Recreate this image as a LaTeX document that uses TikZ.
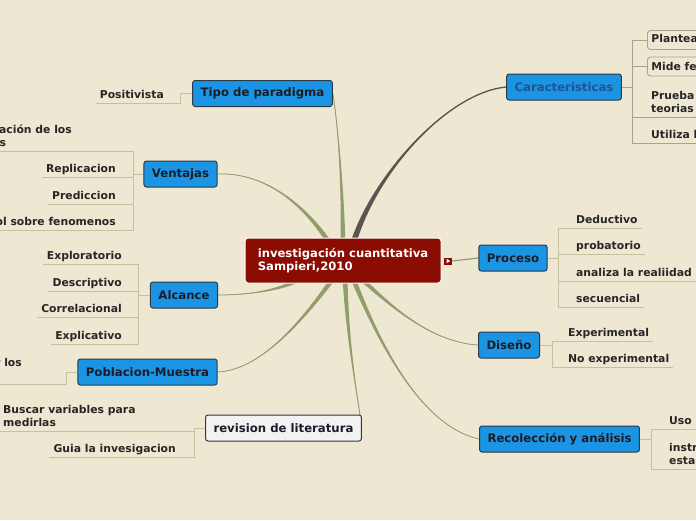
\documentclass[tikz,border=0pt]{standalone}
\usepackage{fontspec}
\setmainfont{DejaVu Sans}
\usetikzlibrary{calc}
\definecolor{bgc}{HTML}{EEE7D2}
\definecolor{topicblue}{HTML}{1B95E3}
\definecolor{boxline}{HTML}{2B3A48}
\definecolor{topictext}{HTML}{1C1C28}
\definecolor{cartext}{HTML}{24528F}
\definecolor{centerred}{HTML}{8A0C02}
\definecolor{olivec}{HTML}{8F9E6A}
\definecolor{darkc}{HTML}{58574F}
\definecolor{leafline}{HTML}{C2C39E}
\definecolor{grayline}{HTML}{A8A290}
\definecolor{leaftext}{HTML}{262626}
\definecolor{revfill}{HTML}{F2F2F2}
\pgfdeclarelayer{bgl}
\pgfdeclarelayer{conn}
\pgfsetlayers{bgl,conn,main}
\newcommand\taper[7]{%
  \fill[#1] ($#2+#6$) .. controls ($#3+0.5*#6$) and #4 .. #5 .. controls #4 and ($#3-0.5*#6$) .. ($#2-#6$) -- cycle;
  \draw[#1, line width=#7] #2 .. controls #3 and #4 .. #5;}
\begin{document}
\begin{tikzpicture}[x=1pt,y=-1pt,
  topic/.style={draw=boxline, fill=topicblue, rounded corners=2.5pt, line width=1pt, text=topictext,
    font=\bfseries\fontsize{11.7}{13.5}\selectfont, minimum height=26pt, inner xsep=8pt, inner ysep=0pt},
  revbox/.style={topic, fill=revfill},
  centerbox/.style={draw=white, fill=centerred, rounded corners=3pt, line width=1pt, text=white, align=left,
    font=\bfseries\fontsize{11.6}{13.3}\selectfont, minimum width=196pt, minimum height=45pt},
  leaf/.style={inner xsep=4pt, inner ysep=4.5pt, text depth=0pt, text=leaftext, align=left,
    font=\bfseries\fontsize{10.8}{13}\selectfont},
  leafbox/.style={draw=grayline, rounded corners=3pt, line width=0.9pt, inner xsep=4pt, inner ysep=0pt,
    minimum height=19pt, text=leaftext, font=\bfseries\fontsize{10.8}{13}\selectfont},
  sub/.style={draw=leafline, line width=1pt},
  subg/.style={draw=grayline, line width=1pt}]
\begin{pgfonlayer}{bgl}
\fill[bgc] (0,0) rectangle (696,520);
\end{pgfonlayer}
\useasboundingbox (0,0) rectangle (696,520);

% central node
\node[centerbox] (c) at (343,260.5) {investigación cuantitativa\\Sampieri,2010};
\node[fill=centerred, minimum width=8pt, minimum height=7pt, inner sep=0pt] (mk) at (448,261) {};
\fill[white] ($(mk.center)+(-1.5,-2.2)$) -- ++(3.8,2.2) -- ++(-3.8,2.2) -- cycle;

% main topics
\node[topic] (tipo) at (262.5,93.5) {Tipo de paradigma};
\node[topic] (vent) at (180.5,174) {Ventajas};
\node[topic] (alc) at (184,295) {Alcance};
\node[topic] (pob) at (147.5,372) {Poblacion-Muestra};
\node[revbox] (rev) at (283.5,428) {revision de literatura};
\node[topic, text=cartext] (car) at (564,87) {Caracteristicas};
\node[topic] (proc) at (513,258) {Proceso};
\node[topic] (dis) at (509,345) {Diseño};
\node[topic] (rec) at (559.5,439) {Recolección y análisis};

% leaves left
\node[leaf, anchor=south east] (pos) at (168,103) {Positivista};
\node[leaf, anchor=south east] (gen) at (76,151) {Generalización de los\\resultados};
\node[leaf, anchor=south east] (repl) at (120,177) {Replicacion};
\node[leaf, anchor=south east] (pred) at (120,204) {Prediccion};
\node[leaf, anchor=south east] (ctrl) at (120,230) {Control sobre fenomenos};
\node[leaf, anchor=south east] (expl) at (126,264) {Exploratorio};
\node[leaf, anchor=south east] (desc) at (126,291) {Descriptivo};
\node[leaf, anchor=south east] (corr) at (126,317) {Correlacional};
\node[leaf, anchor=south east] (expc) at (126,344) {Explicativo};
\node[leaf, anchor=south east, text depth=13pt] (selc) at (26,384) {Seleccionar los};
\node[leaf, anchor=south west] (busc) at (-1,431) {Buscar variables para\\medirlas};
\node[leaf, anchor=south east] (guia) at (180,457) {Guia la invesigacion};

% leaves right
\node[leafbox, anchor=west] (plan) at (647,40) {Planteamiento del problema};
\node[leafbox, anchor=west] (mide) at (647,66.5) {Mide fenómenos};
\node[leaf, anchor=south west] (prue) at (647,117) {Prueba hipótesis y\\teorias};
\node[leaf, anchor=south west] (util) at (647,143) {Utiliza la estadística};
\node[leaf, anchor=south west] (ded) at (572,228) {Deductivo};
\node[leaf, anchor=south west] (prob) at (572,254) {probatorio};
\node[leaf, anchor=south west] (anal) at (572,281) {analiza la realiidad};
\node[leaf, anchor=south west] (sec) at (572,307) {secuencial};
\node[leaf, anchor=south west] (exper) at (564,341) {Experimental};
\node[leaf, anchor=south west] (noexp) at (564,367) {No experimental};
\node[leaf, anchor=south west] (uso) at (665,429) {Uso de la estadística};
\node[leaf, anchor=south west] (inst) at (665,469) {instrumentos\\estandarizados};

\begin{pgfonlayer}{conn}
% main branches
\taper{olivec}{(343,248)}{(343,190)}{(338,125)}{(tipo.east)}{(2.5,0)}{0.8pt}
\taper{olivec}{(330,244)}{(305,205)}{(265,172)}{(vent.east)}{(2.1,-1.4)}{0.8pt}
\taper{darkc}{(352,248)}{(370,180)}{(445,93)}{(car.west)}{(2.9,0.9)}{1.3pt}
\taper{olivec}{(305,276)}{(285,290)}{(250,295)}{(alc.east)}{(1.1,2.3)}{0.8pt}
\taper{olivec}{(335,276)}{(310,310)}{(265,370)}{(pob.east)}{(1.9,1.6)}{0.8pt}
\taper{olivec}{(345,276)}{(347,340)}{(358,400)}{(rev.east)}{(2.5,0)}{0.8pt}
\taper{olivec}{(358,276)}{(380,295)}{(425,342)}{(dis.west)}{(-1.5,2)}{0.8pt}
\taper{olivec}{(352,276)}{(372,325)}{(415,425)}{(rec.west)}{(2.3,-1)}{0.8pt}
\draw[olivec, line width=1.2pt] (mk.east) -- (proc.west);

% sub branches left
\draw[sub] (tipo.west) -- ++(-12,0) |- (pos.south west);
\draw[sub] (vent.west) -- ++(-10,0) coordinate (bv);
\foreach \n in {gen,repl,pred,ctrl} \draw[sub] (bv) |- (\n.south west);
\draw[sub] (alc.west) -- ++(-11,0) coordinate (ba);
\foreach \n in {expl,desc,corr,expc} \draw[sub] (ba) |- (\n.south west);
\draw[sub] (pob.west) -- ++(-11,0) |- (selc.south west);
\draw[sub] (rev.west) -- ++(-11,0) coordinate (br);
\foreach \n in {busc,guia} \draw[sub] (br) |- (\n.south west);
% sub branches right
\draw[subg] (car.east) -- ++(11,0) coordinate (bc);
\foreach \n in {plan,mide} \draw[subg] (bc) |- (\n.west);
\foreach \n in {prue,util} \draw[subg] (bc) |- (\n.south east);
\draw[sub] (proc.east) -- ++(11,0) coordinate (bp);
\foreach \n in {ded,prob,anal,sec} \draw[sub] (bp) |- (\n.south east);
\draw[sub] (dis.east) -- ++(12,0) coordinate (bd);
\foreach \n in {exper,noexp} \draw[sub] (bd) |- (\n.south east);
\draw[sub] (rec.east) -- ++(12,0) coordinate (bre);
\foreach \n in {uso,inst} \draw[sub] (bre) |- (\n.south east);
\end{pgfonlayer}
\end{tikzpicture}
\end{document}
